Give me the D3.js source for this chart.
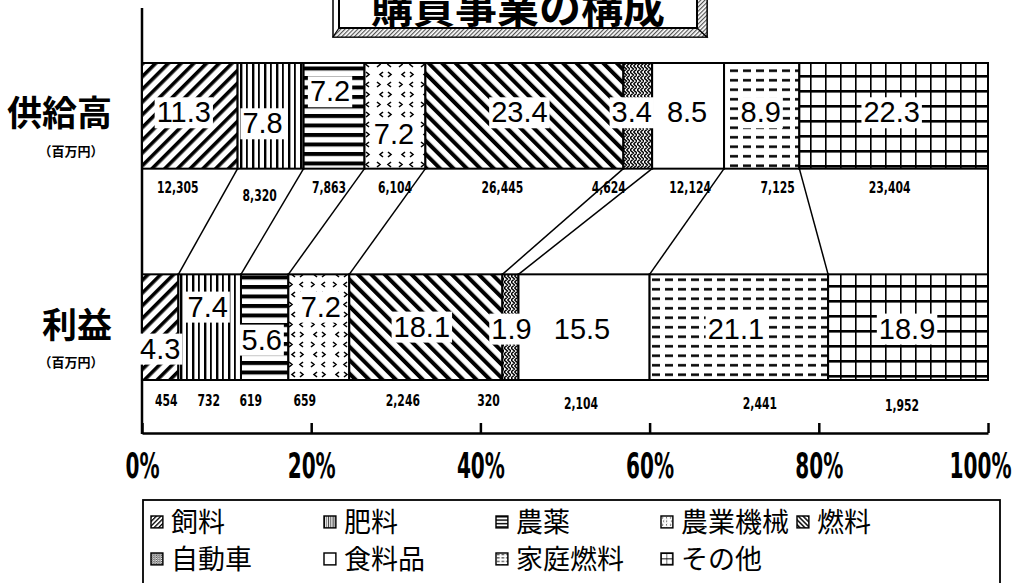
<!doctype html>
<html>
<head>
<meta charset="utf-8">
<script src="https://cdnjs.cloudflare.com/ajax/libs/d3/7.8.5/d3.min.js"></script>
<style>
  body { margin: 0; background: #fff; }
  svg { display: block; font-family: 'Noto Sans CJK JP', sans-serif; }
  .pct { font-family: 'Liberation Sans', Arial, sans-serif; font-size: 29px; }
  .amt { font-family: 'DejaVu Sans Condensed', 'DejaVu Sans', sans-serif; font-weight: bold; font-size: 16px; }
  .axis text { font-family: 'DejaVu Sans Condensed', 'DejaVu Sans', sans-serif; font-weight: bold; font-size: 36px; fill: #000; }
  .axis path, .axis line { stroke: #000; stroke-width: 2.5; }
</style>
</head>
<body>
<script>
// data
var title = "購買事業の構成";
var rows = ["供給高", "利益"];
var unitLabel = "（百万円）";
var categories = ["飼料", "肥料", "農薬", "農業機械", "燃料", "自動車", "食料品", "家庭燃料", "その他"];
var supplyPct = [11.3, 7.8, 7.2, 7.2, 23.4, 3.4, 8.5, 8.9, 22.3];
var profitPct = [4.3, 7.4, 5.6, 7.2, 18.1, 1.9, 15.5, 21.1, 18.9];
var supplyAmt = [12305, 8320, 7863, 6104, 26445, 4624, 12124, 7125, 23404];
var profitAmt = [454, 732, 619, 659, 2246, 320, 2104, 2441, 1952];
var tickValues = [0, 20, 40, 60, 80, 100];

// hand placed label nudges (px) as in the original layout
var pctNudge = [
  [[-6,-4],[-8,7],[-4,-25],[-1,18],[-5,-4],[-6,-4],[-1,-4],[-1,-4],[-2,-4]],
  [[0,21],[-2,-21],[-3,12],[2,-21],[-4,-1],[1,1],[-2,1],[-3,1],[-1,1]]
];
var amtNudge = [
  [[-12,0],[-11,8],[-5,0],[0,0],[-22,0],[-29,0],[2,0],[16,0],[-4,0]],
  [[6,0],[-1,0],[-14,0],[-14,0],[-23,0],[-22,0],[-3,3],[21,3],[-6,5]]
];

var W = 1022, H = 583;
var svg = d3.select("body").append("svg").attr("width", W).attr("height", H);
var defs = svg.append("defs");

var x = d3.scaleLinear().domain([0, 100]).range([142, 988]);
var y = d3.scaleBand().domain(rows).range([63, 380]).paddingInner(0.5);
var bw = y.bandwidth();

// squeeze a text horizontally (the scan uses a narrow typeface)
function squeeze(sel, k) {
  sel.each(function() {
    var len = this.getComputedTextLength();
    d3.select(this).attr("textLength", len * k).attr("lengthAdjust", "spacingAndGlyphs");
  });
}

// table for d3.stack
var table = rows.map(function(r, i) {
  var o = { row: r };
  categories.forEach(function(c, j) { o[c] = (i === 0 ? supplyPct : profitPct)[j]; });
  return o;
});
var series = d3.stack().keys(categories)(table);

// ---- fill patterns ----
function pat(id, w, h, tf) {
  var p = defs.append("pattern").attr("id", id)
    .attr("patternUnits", "userSpaceOnUse")
    .attr("width", w).attr("height", h);
  if (tf) p.attr("patternTransform", tf);
  p.append("rect").attr("width", w).attr("height", h).attr("fill", "#fff");
  return p;
}
var p;
p = pat("p0", 9, 9, "rotate(45)");
p.append("rect").attr("width", 3.6).attr("height", 9).attr("fill", "#000");
p = pat("p1", 12, 10);
p.append("rect").attr("x", 0).attr("width", 2.4).attr("height", 10).attr("fill", "#000");
p.append("rect").attr("x", 6).attr("width", 1.8).attr("height", 10).attr("fill", "#000");
p = pat("p2", 10, 9.5);
p.append("rect").attr("width", 10).attr("height", 4).attr("fill", "#000");
p = pat("p3", 22, 20);
p.append("path").attr("d", "M3,2 L6,4.5 L3,7 M17,2 L14,4.5 L17,7 M9,12 L6,14.5 L9,17 M14,12 L17,14.5 L14,17")
  .attr("fill", "none").attr("stroke", "#000").attr("stroke-width", 1.6);
p = pat("p4", 9.5, 9.5, "rotate(-45)");
p.append("rect").attr("width", 4).attr("height", 9.5).attr("fill", "#000");
p = pat("p5", 7, 6);
p.append("path").attr("d", "M0,0 L3.5,3 L0,6 M3.5,0 L7,3 L3.5,6")
  .attr("fill", "none").attr("stroke", "#000").attr("stroke-width", 1.4);
p = pat("p6", 10, 10);
p = pat("p7", 13, 9.5);
p.append("rect").attr("x", 2).attr("y", 3).attr("width", 8).attr("height", 2.5).attr("fill", "#000");
p = pat("p8", 15, 15);
p.append("rect").attr("width", 1.6).attr("height", 15).attr("fill", "#000");
p.append("rect").attr("width", 15).attr("height", 2.6).attr("fill", "#000");
p = pat("shade", 3, 3, "rotate(45)");
p.append("rect").attr("width", 1.2).attr("height", 3).attr("fill", "#555");

// ---- title box ----
var tg = svg.append("g");
tg.append("rect").attr("x", 333).attr("y", -5).attr("width", 374).attr("height", 42)
  .attr("fill", "#fff").attr("stroke", "#000").attr("stroke-width", 1.5);
tg.append("path").attr("d", "M339,28 L697,28 L707,37 L333,37 Z").attr("fill", "url(#shade)")
  .attr("stroke", "#000").attr("stroke-width", 1.2);
tg.append("path").attr("d", "M697,-5 L707,-5 L707,37 L697,28 Z").attr("fill", "url(#shade)")
  .attr("stroke", "#000").attr("stroke-width", 1.2);
tg.append("rect").attr("x", 339).attr("y", -5).attr("width", 358).attr("height", 33)
  .attr("fill", "#fff").attr("stroke", "#000").attr("stroke-width", 2);
tg.append("text").attr("x", 518).attr("y", 23).attr("text-anchor", "middle")
  .attr("font-size", 42).attr("font-weight", "bold").text(title);

// ---- frame lines ----
svg.append("line").attr("x1", x(0)).attr("x2", x(0)).attr("y1", 8).attr("y2", 434)
  .attr("stroke", "#000").attr("stroke-width", 2.5);
svg.append("line").attr("x1", x(100)).attr("x2", x(100)).attr("y1", y(rows[0])).attr("y2", y(rows[1]) + bw)
  .attr("stroke", "#000").attr("stroke-width", 2);

// ---- connector lines between the two bars ----
var links = d3.range(categories.length - 1).map(function(i) {
  return [[x(series[i][0][1]), y(rows[0]) + bw], [x(series[i][1][1]), y(rows[1])]];
});
svg.append("g").selectAll("path").data(links).enter().append("path")
  .attr("d", d3.line())
  .attr("stroke", "#000").attr("stroke-width", 1.5).attr("fill", "none");

// ---- stacked bars ----
svg.append("g").selectAll("g").data(series).enter().append("g")
  .attr("fill", function(d, i) { return "url(#p" + i + ")"; })
  .selectAll("rect").data(function(d) { return d; }).enter().append("rect")
    .attr("x", function(d) { return x(d[0]); })
    .attr("width", function(d) { return x(d[1]) - x(d[0]); })
    .attr("y", function(d) { return y(d.data.row); })
    .attr("height", bw)
    .attr("stroke", "#000").attr("stroke-width", 2);

// ---- percentage labels with white knock-out ----
var lg = svg.append("g");
series.forEach(function(s, i) {
  s.forEach(function(d, r) {
    var n = pctNudge[r][i];
    var cx = (x(d[0]) + x(d[1])) / 2 + n[0];
    var cy = y(d.data.row) + bw / 2 + n[1];
    var g = lg.append("g");
    var t = g.append("text").attr("class", "pct")
      .attr("x", cx).attr("y", cy).attr("dy", "0.36em")
      .attr("text-anchor", "middle").text(d3.format(".1f")(d[1] - d[0]));
    var b = t.node().getBBox();
    g.insert("rect", "text").attr("x", b.x - 2).attr("y", b.y + 1).attr("width", b.width + 4)
      .attr("height", b.height - 1).attr("fill", "#fff");
  });
});

// ---- amount labels ----
var amts = [supplyAmt, profitAmt];
var amtY = [y(rows[0]) + bw + 19, y(rows[1]) + bw + 20];
series.forEach(function(s, i) {
  s.forEach(function(d, r) {
    var n = amtNudge[r][i];
    svg.append("text").attr("class", "amt")
      .attr("x", (x(d[0]) + x(d[1])) / 2 + n[0]).attr("y", amtY[r] + n[1]).attr("dy", "0.36em")
      .attr("text-anchor", "middle").text(d3.format(",")(amts[r][i]))
      .call(squeeze, 0.75);
  });
});

// ---- row labels ----
rows.forEach(function(r) {
  var cy = y(r) + bw / 2 - 2;
  svg.append("text").attr("x", 112).attr("y", cy).attr("dy", "0.36em")
    .attr("text-anchor", "end").attr("font-size", 35).attr("font-weight", "bold").text(r);
  svg.append("text").attr("x", 71).attr("y", cy + 37).attr("dy", "0.36em")
    .attr("text-anchor", "middle").attr("font-size", 13).attr("font-weight", "bold").text(unitLabel);
});

// ---- bottom axis ----
var narrow = 0.62;
var ax = svg.append("g").attr("class", "axis").attr("transform", "translate(0,433)")
  .call(d3.axisBottom(x).tickValues(tickValues).tickFormat(function(d) { return d + "%"; })
    .tickSizeInner(-10).tickSizeOuter(0).tickPadding(19));
ax.selectAll(".tick text")
  .attr("transform", "scale(" + narrow + ",1)")
  .attr("x", function(d) { return d === 100 ? -8 / narrow : 0; });

// ---- legend ----
var leg = svg.append("g");
leg.append("rect").attr("x", 143).attr("y", 500).attr("width", 857).attr("height", 100)
  .attr("fill", "none").attr("stroke", "#000").attr("stroke-width", 1.8);
var colX = [157, 330, 502, 667, 803];
var rowY = [522, 559];
categories.forEach(function(c, i) {
  var cx = colX[i % 5], cy = rowY[Math.floor(i / 5)];
  leg.append("g").attr("transform", "translate(" + (cx - 6) + "," + (cy - 6) + ") scale(0.36)")
    .append("rect").attr("width", 33).attr("height", 33)
    .attr("fill", "url(#p" + i + ")").attr("stroke", "#000").attr("stroke-width", 4);
  leg.append("text").attr("x", cx + 14).attr("y", cy).attr("dy", "0.36em")
    .attr("font-size", 27).text(c);
});
</script>
</body>
</html>
